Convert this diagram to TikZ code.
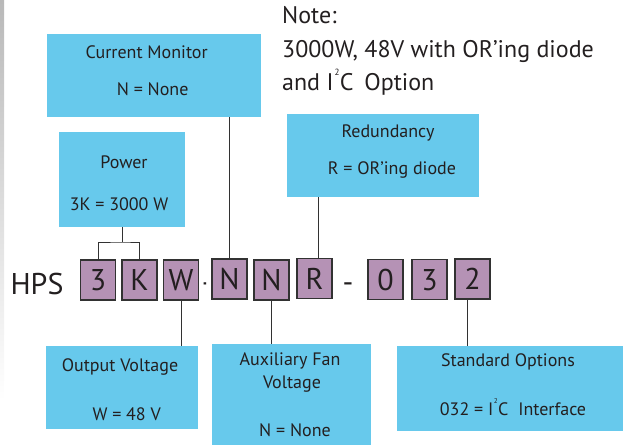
\documentclass[tikz,border=0pt]{standalone}
\usepackage{fontspec}
\setmainfont{PT Sans}
\definecolor{boxblue}{RGB}{103,201,236}
\definecolor{mauve}{RGB}{181,146,181}
\definecolor{ink}{RGB}{35,31,32}
\definecolor{wirecol}{RGB}{50,50,50}
\newcommand{\isqc}[1]{I\kern0.04em\raisebox{0.62em}{\fontsize{#1}{#1}\selectfont 2}\kern0.02em C}
\tikzset{
  bluebox/.style={fill=boxblue, draw=none, anchor=north west, inner sep=0pt, outer sep=0pt},
  lbl/.style={anchor=base, inner sep=0pt, text=ink, font=\fontsize{18}{20}\selectfont},
  notetxt/.style={anchor=base west, inner sep=0pt, text=ink, font=\fontsize{24}{26}\selectfont},
  charbox/.style={draw=wirecol, line width=1.1pt, fill=mauve, minimum width=35pt, minimum height=40pt,
    inner sep=0pt, text=ink, font=\fontsize{30}{32}\selectfont, text height=21.5pt, text depth=0pt},
  bigtxt/.style={anchor=base, inner sep=0pt, text=ink, font=\fontsize{30}{32}\selectfont},
  wire/.style={draw=wirecol, line width=1pt},
}
\begin{document}
\begin{tikzpicture}[x=1pt,y=-1pt]
\useasboundingbox (0,0) rectangle (623,445);
% left scan strip
\shade[top color=gray!55, bottom color=white] (0,0) rectangle (4,400);

% blue boxes
\node[bluebox, minimum width=214pt, minimum height=83pt] (cm) at (47,34) {};
\node[bluebox, minimum width=126pt, minimum height=95pt] (pw) at (59,132) {};
\node[bluebox, minimum width=192pt, minimum height=83pt] (rd) at (287,114) {};
\node[bluebox, minimum width=152pt, minimum height=83pt] (ov) at (46,346) {};
\node[bluebox, minimum width=159pt, minimum height=101pt] (af) at (212,344) {};
\node[bluebox, minimum width=226pt, minimum height=85pt] (so) at (397,346) {};

% box labels
\node[lbl] (cmt) at (146.7,58.3) {Current Monitor};
\node[lbl] (cmv) at (152.7,95) {N = None};
\node[lbl] (pwt) at (124,168.3) {Power};
\node[lbl] (pwv) at (119,210) {3K = 3000 W};
\node[lbl] (rdt) at (388,137.7) {Redundancy};
\node[lbl] (rdv) at (392,174) {R = OR’ing diode};
\node[lbl] (ovt) at (120,371.7) {Output Voltage};
\node[lbl] (ovv) at (126.7,420) {W = 48 V};
\node[lbl] (aft) at (290,365) {Auxiliary Fan};
\node[lbl] (aft2) at (292,388.3) {Voltage};
\node[lbl] (afv) at (295,436) {N = None};
\node[lbl] (sot) at (508,366.7) {Standard Options};
\node[lbl] (sov) at (513,415) {032 = \isqc{7}\hspace{0.55em}Interface};

% note
\node[notetxt] (n1l) at (282,23) {Note:};
\node[notetxt] (n2l) at (282,57) {3000W, 48V with OR’ing diode};
\node[notetxt] (n3l) at (282,90) {and \isqc{9}\hspace{0.45em}Option};

% part number
\node[bigtxt] (hps) at (37,294) {HPS};
\node[charbox] (c3) at (98,280) {3};
\node[charbox] (ck) at (139.5,280) {K};
\node[charbox] (cw) at (181,280) {W};
\node[bigtxt] (d1) at (205,292) {\scalebox{0.35}[1]{-}};
\node[charbox] (cn1) at (229.5,279) {N};
\node[charbox] (cn2) at (271.5,280) {N};
\node[charbox] (cr) at (314.5,278.5) {R};
\node[bigtxt] (d2) at (348,292) {-};
\node[charbox] (c0) at (385.5,279.5) {0};
\node[charbox] (c3b) at (429.5,279.5) {3};
\node[charbox] (c2) at (472.5,279) {2};

% connectors
\coordinate (pj) at ([yshift=-15pt]pw.south);
\draw[wire] (pw.south) -- (pj);
\draw[wire] (c3.north) |- (pj) -| (ck.north);
\draw[wire] (cn1.north) -- (cn1.north |- cm.south);
\draw[wire] ([xshift=3.5pt]cr.north) -- ([xshift=3.5pt]cr.north |- rd.south);
\draw[wire] (cw.south) -- (cw.south |- ov.north);
\draw[wire] (cn2.south) -- (cn2.south |- af.north);
\draw[wire] ([xshift=-5.5pt]c2.south) -- ([xshift=-5.5pt]c2.south |- so.north);
\end{tikzpicture}
\end{document}
